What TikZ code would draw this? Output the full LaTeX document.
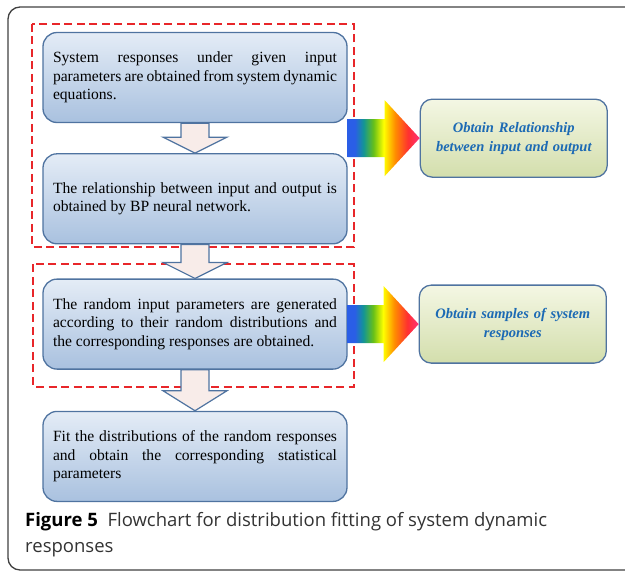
\documentclass[tikz,border=0pt]{standalone}
\usepackage{fontspec}
\setmainfont{Liberation Serif}
\newfontfamily\capfont{Open Sans}
\usepackage{tikz}
\usetikzlibrary{calc}
\usetikzlibrary{positioning}
\hyphenpenalty=10000
\exhyphenpenalty=10000
\definecolor{boxline}{HTML}{4F73A0}
\definecolor{bluetop}{HTML}{E4ECF6}
\definecolor{bluebot}{HTML}{A9C1DF}
\definecolor{greentop}{HTML}{F4F7E4}
\definecolor{greenbot}{HTML}{D3DEAC}
\definecolor{obtainblue}{HTML}{1C6AB4}
\definecolor{framered}{HTML}{E8262A}
\definecolor{arrowpink}{HTML}{F8ECE9}
\definecolor{rbblue}{HTML}{2A5EE6}
\definecolor{rbteal}{HTML}{139595}
\definecolor{rbgreen}{HTML}{68C018}
\definecolor{rborange}{HTML}{FF8C00}
\definecolor{rbred}{HTML}{FF3030}
\definecolor{rbpink}{HTML}{FF3278}
\pgfdeclarehorizontalshading{rainbow}{100bp}{color(0bp)=(rbblue); color(30bp)=(rbblue);
  color(36bp)=(rbteal); color(43bp)=(rbgreen); color(50bp)=(yellow);
  color(58bp)=(rborange); color(67bp)=(rbred); color(75bp)=(rbpink); color(100bp)=(rbpink)}
\tikzset{%
  bluebox/.style={rectangle, rounded corners=14pt, draw=boxline, line width=1.3pt,
    top color=bluetop, bottom color=bluebot, text width=284pt, inner xsep=10pt,
    minimum height=90pt, align=justify, font=\fontsize{15.6}{18.3}\selectfont},
  greenbox/.style={rectangle, rounded corners=12pt, draw=boxline, line width=1.3pt,
    top color=greentop, bottom color=greenbot, text width=175pt, minimum width=187pt,
    minimum height=78pt, align=center, text=obtainblue,
    font=\bfseries\itshape\fontsize{14.5}{19}\selectfont},
  redframe/.style={draw=framered, dash pattern=on 8pt off 4.5pt, line width=2pt},
  fatarrow/.style={draw=boxline, fill=arrowpink, line width=1.2pt, line join=miter}
}
% block arrow pointing down from box #1 to box #2, head length #3
\newcommand{\fatdown}[3]{%
  \draw[fatarrow] let \p1=(#1.south), \p2=(#2.north) in
    (\x1-14pt,\y1) -- (\x1+14pt,\y1) -- (\x1+14pt,\y2+#3) -- (\x1+32pt,\y2+#3)
    -- (\x1,\y2) -- (\x1-32pt,\y2+#3) -- (\x1-14pt,\y2+#3) -- cycle;}
% rainbow arrow from box #1 to box #2
\newcommand{\rainbowto}[2]{%
  \shade[shading=rainbow] let \p1=(#1.east), \p2=(#2.west) in
    (\x1,\y2+19pt) -- (\x2-35pt,\y2+19pt) -- (\x2-35pt,\y2+38pt) -- (\x2,\y2)
    -- (\x2-35pt,\y2-38pt) -- (\x2-35pt,\y2-19pt) -- (\x1,\y2-19pt) -- cycle;}

\begin{document}
\begin{tikzpicture}[x=1pt, y=-1pt]
  \useasboundingbox (0,0) rectangle (625,571);
  \draw[rounded corners=12pt, line width=1.3pt, black!75] (8,7) rectangle (660,570);
  % main steps
  \node[bluebox] (b1) at (195,77.5) {System responses under given input
    parameters are obtained from system dynamic equations.};
  \node[bluebox, below=30pt] (b2) at (b1.south) {The relationship between input and output is
    obtained by BP neural network.};
  \node[bluebox, below=34pt] (b3) at (b2.south) {The random input parameters are generated
    according to their random distributions and the corresponding responses are obtained.};
  \node[bluebox, below=41pt] (b4) at (b3.south) {Fit the distributions of the random responses
    and obtain the corresponding statistical parameters};
  % results
  \node[greenbox, right=72pt] (g1) at ($(b1.east)!0.5!(b2.east)$) {Obtain Relationship\\
    between input and output};
  \node[greenbox, right=71pt] (g2) at (b3.east) {Obtain samples of system\\responses};
  % dashed groups
  \draw[redframe] ($(b1.north west)+(-10,-8)$) rectangle ($(b2.south east)+(6,3)$);
  \draw[redframe] ($(b3.north west)+(-9,-14)$) rectangle ($(b3.south east)+(6,17)$);
  \fatdown{b1}{b2}{16pt}
  \fatdown{b2}{b3}{16pt}
  \fatdown{b3}{b4}{20pt}
  \rainbowto{b1}{g1}
  \rainbowto{b3}{g2}
  % caption
  \node[anchor=north west, inner sep=0pt, align=left, text=black!80,
    font=\capfont\fontsize{18.5}{26}\selectfont] (cap) at (25,512)
    {\textbf{\color{black}Figure 5}\ \ Flowchart for distribution fitting of system dynamic\\responses};
\end{tikzpicture}
\end{document}
